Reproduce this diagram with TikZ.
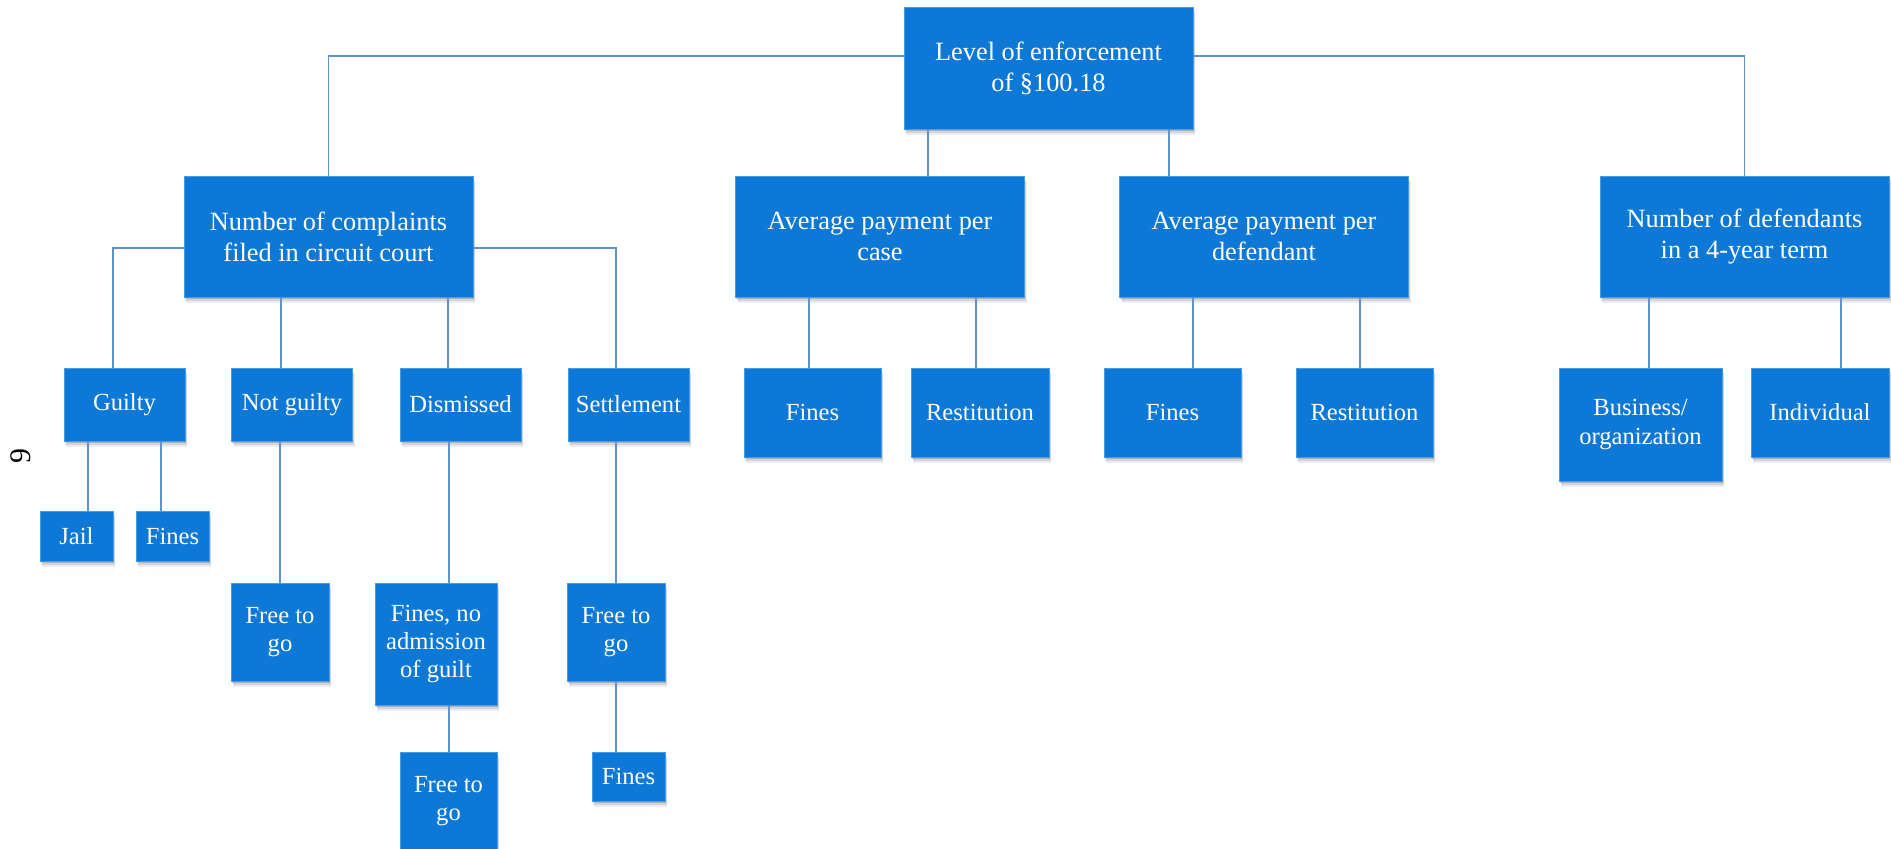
\documentclass[tikz,border=0pt]{standalone}
\usepackage{fontspec}
\setmainfont{Liberation Serif}
\usetikzlibrary{shadows}
\definecolor{boxblue}{RGB}{14,120,214}
\definecolor{lineblue}{RGB}{96,145,205}

\begin{document}
\begin{tikzpicture}[x=0.02cm, y=-0.02cm,
    box/.style={fill=boxblue, draw=boxblue!75!white, line width=0.4pt, text=white, align=center, inner sep=0pt,
        font=\fontsize{14}{16.2}\selectfont,
        drop shadow={shadow xshift=0.5pt, shadow yshift=-1.2pt, fill=black, opacity=0.16},
        drop shadow={shadow xshift=0.9pt, shadow yshift=-2.4pt, fill=black, opacity=0.11},
        drop shadow={shadow xshift=1.2pt, shadow yshift=-3.6pt, fill=black, opacity=0.07}},
    bigbox/.style={box, minimum width=5.78cm, minimum height=2.42cm, font=\fontsize{15}{17.6}\selectfont},
    link/.style={draw=lineblue, line width=0.6pt}]
    \useasboundingbox (0,0) rectangle (1891,849);

    % top and second row
    \node[bigbox, minimum height=2.44cm] (root) at (1048.5,68) {Level of enforcement\\of \S100.18};
    \node[bigbox] (cmpl) at (328.5,236.5) {Number of complaints\\filed in circuit court};
    \node[bigbox] (avgcase) at (880,236.5) {Average payment per\\case};
    \node[bigbox] (avgdef) at (1264,236.5) {Average payment per\\defendant};
    \node[bigbox] (numdef) at (1744.5,236.5) {Number of defendants\\in a 4-year term};

    % third row
    \node[box, minimum width=2.42cm, minimum height=1.46cm] (guilty) at (124.5,404.5) {Guilty};
    \node[box, minimum width=2.42cm, minimum height=1.46cm] (notguilty) at (292,404.5) {Not guilty};
    \node[box, minimum width=2.42cm, minimum height=1.46cm] (dismissed) at (460.5,404.5) {Dismissed};
    \node[box, minimum width=2.42cm, minimum height=1.46cm] (settle) at (628.5,404.5) {Settlement};
    \node[box, minimum width=2.74cm, minimum height=1.78cm] (finescase) at (812.5,412.5) {Fines};
    \node[box, minimum width=2.76cm, minimum height=1.78cm] (restcase) at (980,412.5) {Restitution};
    \node[box, minimum width=2.74cm, minimum height=1.78cm] (finesdef) at (1172.5,412.5) {Fines};
    \node[box, minimum width=2.74cm, minimum height=1.78cm] (restdef) at (1364.5,412.5) {Restitution};
    \node[box, minimum width=3.26cm, minimum height=2.26cm] (business) at (1640.5,424.5) {Business/\\organization};
    \node[box, minimum width=2.76cm, minimum height=1.78cm] (indiv) at (1820,412.5) {Individual};

    % outcomes
    \node[box, minimum width=1.46cm, minimum height=1cm] (jail) at (76.5,536) {Jail};
    \node[box, minimum width=1.46cm, minimum height=1cm] (finesg) at (172.5,536) {Fines};
    \node[box, minimum width=1.96cm, minimum height=1.96cm] (freeng) at (280,632) {Free to\\go};
    \node[box, minimum width=2.44cm, minimum height=2.44cm] (finesno) at (436,644) {Fines, no\\admission\\of guilt};
    \node[box, minimum width=1.96cm, minimum height=1.96cm] (freeset) at (616,632) {Free to\\go};
    \node[box, minimum width=1.94cm, minimum height=1.96cm] (freedis) at (448.5,801) {Free to\\go};
    \node[box, minimum width=1.46cm, minimum height=0.98cm] (finesset) at (628.5,776.5) {Fines};

    \node[rotate=90, font=\fontsize{17}{17}\selectfont] (pagenum) at (21,456) {9};

    % connectors
    \draw[link] (root.west |- 0,56) -| (cmpl.north);
    \draw[link] (root.east |- 0,56) -| (numdef.north);
    \draw[link] (root.south -| 928,0) -- (avgcase.north -| 928,0);
    \draw[link] (root.south -| 1169,0) -- (avgdef.north -| 1169,0);

    \draw[link] (cmpl.west |- 0,248) -| (guilty.north -| 113,0);
    \draw[link] (cmpl.east |- 0,248) -| (settle.north -| 616,0);
    \draw[link] (cmpl.south -| 281,0) -- (notguilty.north -| 281,0);
    \draw[link] (cmpl.south -| 448,0) -- (dismissed.north -| 448,0);

    \draw[link] (avgcase.south -| 809,0) -- (finescase.north -| 809,0);
    \draw[link] (avgcase.south -| 976,0) -- (restcase.north -| 976,0);
    \draw[link] (avgdef.south -| 1193,0) -- (finesdef.north -| 1193,0);
    \draw[link] (avgdef.south -| 1360,0) -- (restdef.north -| 1360,0);
    \draw[link] (numdef.south -| 1649,0) -- (business.north -| 1649,0);
    \draw[link] (numdef.south -| 1841,0) -- (indiv.north -| 1841,0);

    \draw[link] (guilty.south -| 88,0) -- (jail.north -| 88,0);
    \draw[link] (guilty.south -| 161,0) -- (finesg.north -| 161,0);
    \draw[link] (notguilty.south -| 280,0) -- (freeng.north -| 280,0);
    \draw[link] (dismissed.south -| 449,0) -- (finesno.north -| 449,0);
    \draw[link] (settle.south -| 616,0) -- (freeset.north -| 616,0);
    \draw[link] (finesno.south -| 449,0) -- (freedis.north -| 449,0);
    \draw[link] (freeset.south -| 616,0) -- (finesset.north -| 616,0);
\end{tikzpicture}
\end{document}
